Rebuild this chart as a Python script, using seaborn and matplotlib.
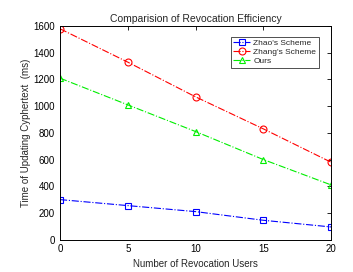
import matplotlib
matplotlib.use("Agg")
import matplotlib.pyplot as plt
import seaborn as sns
import pandas as pd

users = [0, 5, 10, 15, 20]
zhao = [300, 255, 210, 145, 95]
zhang = [1580, 1330, 1070, 830, 580]
ours = [1210, 1010, 810, 600, 410]

sns.set_style("white")
plt.rcParams["font.family"] = ["Liberation Sans", "DejaVu Sans"]

fig = plt.figure(figsize=(3.53, 2.72), dpi=100)
ax = fig.add_axes([0.17, 0.119, 0.768, 0.785])

series = [
    ("Zhao's Scheme", zhao, "#0000ff", "s"),
    ("Zhang's Scheme", zhang, "#ff0000", "o"),
    ("Ours", ours, "#00ee00", "^"),
]
for name, vals, col, mk in series:
    df = pd.DataFrame({"users": users, "time": vals})
    sns.lineplot(data=df, x="users", y="time", ax=ax, color=col, linestyle="-.",
                 linewidth=0.8, marker=mk, markersize=5, markerfacecolor="none",
                 markeredgecolor=col, markeredgewidth=0.8, label=name)

ax.set_xlim(0, 20)
ax.set_ylim(0, 1600)
ax.set_xticks(users)
ax.set_yticks(range(0, 1601, 200))
ax.tick_params(direction="in", length=3, width=0.6, labelsize=7,
               top=True, right=True, colors="black")
for s in ax.spines.values():
    s.set_color("black")
    s.set_linewidth(0.7)

ax.set_title("Comparision of Revocation Efficiency", fontsize=7.5, pad=3)
ax.set_xlabel("Number of Revocation Users", fontsize=7, labelpad=3)
ax.set_ylabel("Time of Updating Cyphertext  (ms)", fontsize=7, labelpad=2)

leg = ax.legend(loc="upper right", fontsize=6, frameon=True, fancybox=False,
                edgecolor="black", handlelength=2.0, borderpad=0.3,
                labelspacing=0.15, handletextpad=0.4,
                bbox_to_anchor=(0.97, 0.97))
leg.get_frame().set_linewidth(0.6)

fig.savefig("out.png", dpi=100)
